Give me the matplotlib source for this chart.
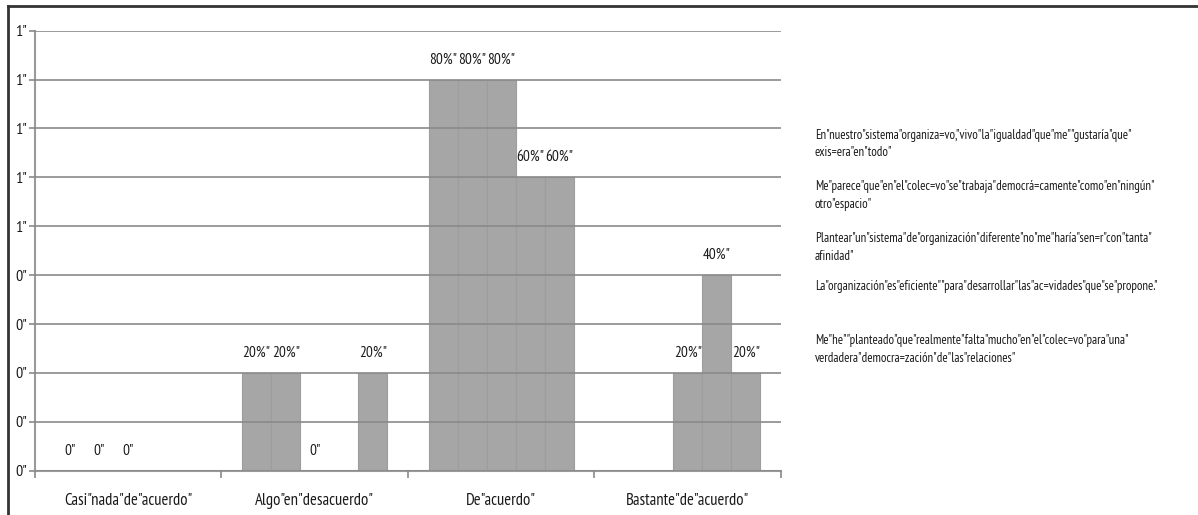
import matplotlib
matplotlib.use("Agg")
import matplotlib.pyplot as plt
from matplotlib.lines import Line2D
import numpy as np

FONT = ['PT Sans Narrow', 'Roboto Condensed', 'Archivo Narrow', 'DejaVu Sans']
plt.rcParams['font.family'] = FONT

categories = ['Casi"nada"de"acuerdo"', 'Algo"en"desacuerdo"', 'De"acuerdo"', 'Bastante"de"acuerdo"']

series_names = [
    'En"nuestro"sistema"organiza=vo,"vivo"la"igualdad"que"me""gustaría"que"\nexis=era"en"todo"',
    'Me"parece"que"en"el"colec=vo"se"trabaja"democrá=camente"como"en"ningún"\notro"espacio"',
    'Plantear"un"sistema"de"organización"diferente"no"me"haría"sen=r"con"tanta"\nafinidad"',
    'La"organización"es"eficiente""para"desarrollar"las"ac=vidades"que"se"propone."',
    'Me"he""planteado"que"realmente"falta"mucho"en"el"colec=vo"para"una"\nverdadera"democra=zación"de"las"relaciones"',
]

series1 = [0.0, 0.2, 0.8, None]
series2 = [0.0, 0.2, 0.8, None]
series3 = [0.0, 0.0, 0.8, 0.2]
series4 = [None, None, 0.6, 0.4]
series5 = [None, 0.2, 0.6, 0.2]
all_series = [series1, series2, series3, series4, series5]

y_ticks = [0.0, 0.1, 0.2, 0.3, 0.4, 0.5, 0.6, 0.7, 0.8, 0.9]
y_tick_labels = ['0"', '0"', '0"', '0"', '0"', '1"', '1"', '1"', '1"', '1"']

W, H = 1198, 515
fig = plt.figure(figsize=(W / 100, H / 100), dpi=100)
ax = fig.add_axes([35 / W, 1 - 470.7 / H, (781 - 35) / W, (470.7 - 30.7) / H])

bar_color = '#a6a6a6'
n = len(all_series)
group_w = 0.78
bw = group_w / n
x = np.arange(len(categories)) + 0.5

for i, s in enumerate(all_series):
    for j, v in enumerate(s):
        if v is None:
            continue
        xc = x[j] - group_w / 2 + bw * (i + 0.5)
        if v > 0:
            ax.bar(xc, v, width=bw, color=bar_color, edgecolor='#9d9d9d',
                   linewidth=0.8, zorder=1)
        lab = '0"' if v == 0 else f'{int(round(v * 100))}%"'
        ax.annotate(lab, (xc, v), xytext=(0, 14.5), textcoords='offset points',
                    ha='center', va='center', fontsize=11, color='#1a1a1a')

ax.set_xlim(0, 4)
ax.set_ylim(0, 0.9)
ax.set_yticks(y_ticks)
ax.set_yticklabels(y_tick_labels, fontsize=11.5, color='#1a1a1a')
ax.yaxis.grid(True, color='#8a8a8a', linewidth=1.2, zorder=3)
ax.set_axisbelow(False)

ax.set_xticks(x)
ax.set_xticklabels(categories, fontsize=12, color='#1a1a1a')
ax.set_xticks([0, 1, 2, 3, 4], minor=True)
ax.tick_params(axis='x', which='major', length=0, pad=16)
ax.tick_params(axis='x', which='minor', length=5, color='#8a8a8a', width=1.2)
ax.tick_params(axis='y', length=4, color='#8a8a8a', width=1.2, pad=2)

for sp in ['top', 'right']:
    ax.spines[sp].set_visible(False)
for sp in ['left', 'bottom']:
    ax.spines[sp].set_color('#9a9a9a')
    ax.spines[sp].set_linewidth(1.5)

# legend texts
leg_y = [137, 188, 240, 288, 342]
for name, yy in zip(series_names, leg_y):
    fig.text(815 / W, 1 - (yy - 8) / H, name, ha='left', va='top',
             fontsize=9.2, color='#1a1a1a', linespacing=1.45)

# figure border (top and left)
fig.add_artist(Line2D([8 / W, 1], [1 - 6 / H, 1 - 6 / H], transform=fig.transFigure,
                      color='#333333', linewidth=2))
fig.add_artist(Line2D([8 / W, 8 / W], [0, 1 - 6 / H], transform=fig.transFigure,
                      color='#333333', linewidth=2))

fig.savefig('out.png', dpi=100, facecolor='white')
